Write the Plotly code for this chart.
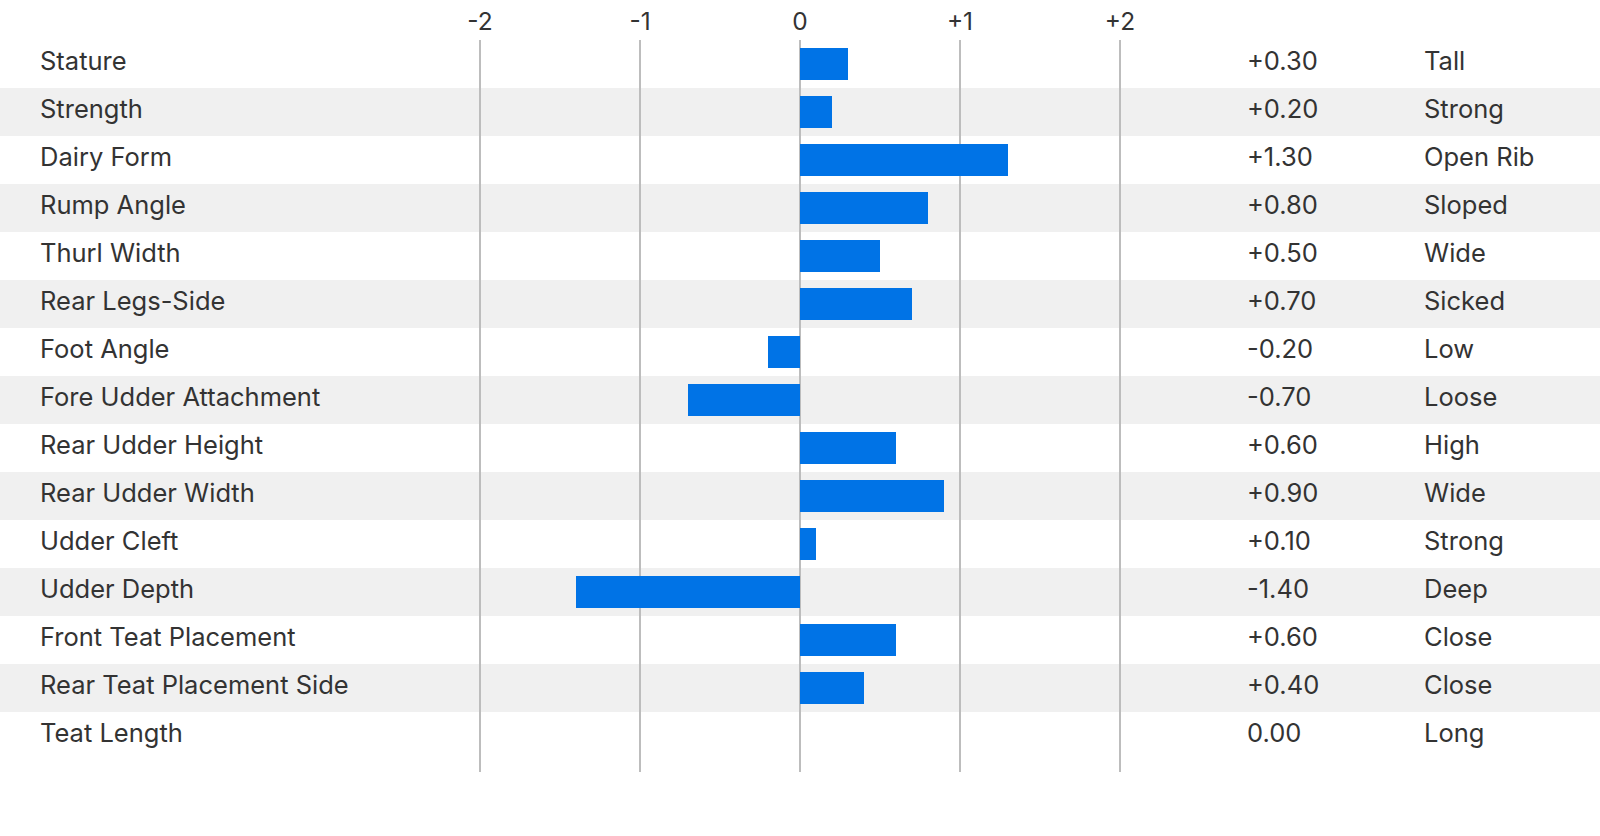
import plotly.graph_objects as go

traits = ["Stature", "Strength", "Dairy Form", "Rump Angle", "Thurl Width",
          "Rear Legs-Side", "Foot Angle", "Fore Udder Attachment", "Rear Udder Height",
          "Rear Udder Width", "Udder Cleft", "Udder Depth", "Front Teat Placement",
          "Rear Teat Placement Side", "Teat Length"]
values = [0.30, 0.20, 1.30, 0.80, 0.50, 0.70, -0.20, -0.70, 0.60, 0.90, 0.10,
          -1.40, 0.60, 0.40, 0.00]
descriptors = ["Tall", "Strong", "Open Rib", "Sloped", "Wide", "Sicked", "Low",
               "Loose", "High", "Wide", "Strong", "Deep", "Close", "Close", "Long"]
tick_vals = [-2, -1, 0, 1, 2]
tick_text = ["-2", "-1", "0", "+1", "+2"]

FONT = "Inter, 'Noto Sans', sans-serif"
TXT = "#333333"
W, H = 1600, 836

def fmt(v):
    return "0.00" if abs(v) < 1e-9 else f"{v:+.2f}"

idx = list(range(len(traits)))

fig = go.Figure()
fig.add_trace(go.Bar(
    x=values, y=idx, orientation="h", width=0.667,
    marker=dict(color="#0073E6", line=dict(width=0)),
    hoverinfo="skip",
))

shapes = []
for i in idx:
    if i % 2 == 1:
        shapes.append(dict(type="rect", xref="paper", yref="y", x0=0, x1=1,
                           y0=i - 0.5, y1=i + 0.5, fillcolor="#f0f0f0",
                           line=dict(width=0), layer="below"))

annotations = []
for i, (t, v, d) in enumerate(zip(traits, values, descriptors)):
    for xp, txt in ((38 / W, t), (1245 / W, fmt(v)), (1422 / W, d)):
        annotations.append(dict(x=xp, y=i, xref="paper", yref="y", text=txt,
                                showarrow=False, xanchor="left", yanchor="middle",
                                yshift=4,
                                font=dict(family=FONT, size=25.5, color=TXT)))

fig.update_layout(
    width=W, height=H,
    margin=dict(l=0, r=0, t=40, b=64, autoexpand=False),
    paper_bgcolor="white", plot_bgcolor="rgba(0,0,0,0)",
    showlegend=False, hovermode=False,
    shapes=shapes, annotations=annotations,
    xaxis=dict(domain=[472 / W, 1128 / W], range=[-2.05, 2.05], side="top",
               tickvals=tick_vals, ticktext=tick_text, showgrid=True,
               gridcolor="#bdbdbd", gridwidth=2, zeroline=False, showline=False,
               ticks="", ticklabelstandoff=4,
               tickfont=dict(family=FONT, size=24.5, color=TXT),
               fixedrange=True),
    yaxis=dict(range=[14.5 + 12 / 48, -0.5], showticklabels=False, showgrid=False,
               zeroline=False, showline=False, fixedrange=True),
)

fig.write_html("out.html", config={"displayModeBar": False},
               post_script="document.body.style.margin='0';document.body.style.overflow='hidden';")
